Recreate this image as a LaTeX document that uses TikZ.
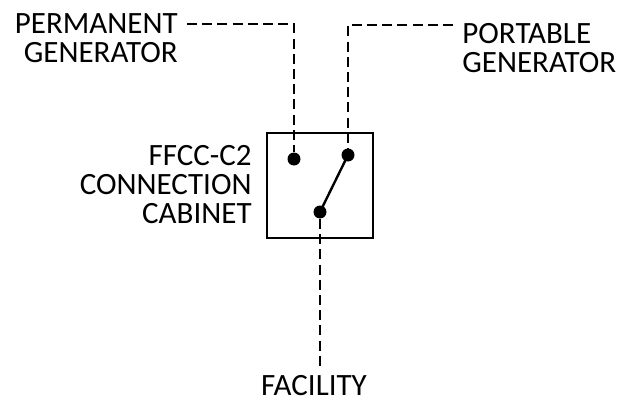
\documentclass[tikz,border=0pt]{standalone}
\usepackage{fontspec}
\setmainfont{Carlito}
\tikzset{
  wire/.style={line width=1.3pt,dash pattern=on 5pt off 2.6pt},
  contact/.style={circle,fill=black,inner sep=0pt,minimum size=6.5pt},
  lbl/.style={inner sep=0pt,font=\fontsize{15.5}{14.6}\selectfont}
}
\begin{document}
\begin{tikzpicture}[x=0.5pt,y=-0.5pt]
\useasboundingbox (0,0) rectangle (623,402);
% cabinet
\draw[line width=1pt] (267,133) rectangle (373,238);
\node[contact] (perm) at (294,159) {};
\node[contact] (port) at (348,155) {};
\node[contact] (fac) at (320,212) {};
\draw[line width=1.2pt] (fac.center) -- (port.center);
% labels
\node[lbl,anchor=north east,align=right] (permlbl) at (178,13) {PERMANENT\\GENERATOR};
\node[lbl,anchor=north west,align=left] (portlbl) at (462,23) {PORTABLE\\GENERATOR};
\node[lbl,anchor=north east,align=right] (cablbl) at (252,145) {FFCC-C2\\CONNECTION\\CABINET};
\node[lbl,anchor=north] (faclbl) at (314,375) {FACILITY};
% wires
\coordinate (permend) at (187,24);
\coordinate (portend) at (453,25);
\coordinate (facend) at (320,366);
\draw[wire] (permend) -| (perm);
\draw[wire] (portend) -| (port);
\draw[wire] (fac) -- (facend);
\end{tikzpicture}
\end{document}
